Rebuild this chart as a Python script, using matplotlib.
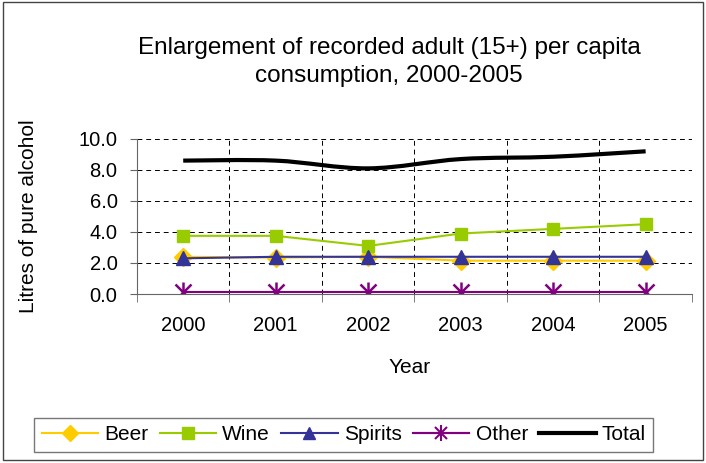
import numpy as np
import matplotlib.pyplot as plt
from matplotlib.path import Path
from matplotlib.patches import PathPatch, Rectangle
from matplotlib.lines import Line2D
from matplotlib.legend_handler import HandlerTuple

plt.rcParams['font.family'] = ['Liberation Sans', 'DejaVu Sans']

years = ['2000', '2001', '2002', '2003', '2004', '2005']
beer = [2.4, 2.35, 2.4, 2.15, 2.15, 2.15]
wine = [3.75, 3.75, 3.1, 3.9, 4.2, 4.5]
spirits = [2.3, 2.4, 2.4, 2.4, 2.4, 2.4]
other = [0.1, 0.1, 0.1, 0.1, 0.1, 0.1]
total = [8.6, 8.6, 8.1, 8.7, 8.85, 9.2]

fig = plt.figure(figsize=(7.06, 4.63), dpi=100)
ax = fig.add_axes([0.194, 0.365, 0.786, 0.335])
x = np.arange(len(years))

# rahmen um die ganze grafik
fig.patches.append(Rectangle((0.004, 0.006), 0.992, 0.99, transform=fig.transFigure,
                             fill=False, edgecolor='#444444', lw=1.0))

ax.plot(x, beer, color='#FFCC00', marker='D', markersize=9, lw=1.5, label='Beer')
ax.plot(x, wine, color='#99CC00', marker='s', markersize=9, lw=1.5, label='Wine')
ax.plot(x, spirits, color='#333399', marker='^', markersize=10, lw=1.5, label='Spirits')
ax.plot(x, other, color='#800080', lw=1.5)
ax.plot(x, other, color='#800080', marker='x', ls='none', markersize=11, mew=1.8)
ax.plot(x, other, color='#800080', marker='|', ls='none', markersize=15, mew=1.8)

# geglaettete linie (Excel-artig) fuer Total
verts = [(x[0], total[0])]
codes = [Path.MOVETO]
for i in range(len(x) - 1):
    p0 = (x[max(i - 1, 0)], total[max(i - 1, 0)])
    p1 = (x[i], total[i])
    p2 = (x[i + 1], total[i + 1])
    p3 = (x[min(i + 2, len(x) - 1)], total[min(i + 2, len(x) - 1)])
    c1 = (p1[0] + (p2[0] - p0[0]) / 6, p1[1] + (p2[1] - p0[1]) / 6)
    c2 = (p2[0] - (p3[0] - p1[0]) / 6, p2[1] - (p3[1] - p1[1]) / 6)
    verts += [c1, c2, p2]
    codes += [Path.CURVE4] * 3
ax.add_patch(PathPatch(Path(verts, codes), fill=False, edgecolor='black', lw=3))

ax.set_xlim(-0.5, 5.5)
ax.set_ylim(0, 10)
ax.set_yticks(np.arange(0, 10.1, 2))
ax.set_yticklabels(['%.1f' % v for v in np.arange(0, 10.1, 2)])
ax.set_xticks(x)
ax.set_xticklabels(years)
ax.set_xticks(np.arange(-0.5, 5.6, 1), minor=True)
ax.tick_params(axis='x', which='major', length=0, pad=16, labelsize=14.5)
ax.tick_params(axis='x', which='minor', length=6, direction='out', color='#666666')
ax.tick_params(axis='y', length=5, direction='out', color='#666666', labelsize=14.5, pad=9)

ax.grid(True, axis='y', which='major', color='black', ls=(0, (5, 4)), lw=0.7)
ax.grid(True, axis='x', which='minor', color='black', ls=(0, (5, 4)), lw=0.7)
for s in ['top', 'right']:
    ax.spines[s].set_visible(False)
for s in ['left', 'bottom']:
    ax.spines[s].set_color('#666666')

ax.set_xlabel('Year', fontsize=15, va='center')
ax.xaxis.set_label_coords(0.492, -0.477)
ax.set_ylabel('Litres of pure alcohol', fontsize=15, va='center')
ax.yaxis.set_label_coords(-0.196, 0.5)
fig.text(0.551, 0.866, 'Enlargement of recorded adult (15+) per capita\nconsumption, 2000-2005',
         ha='center', va='center', fontsize=17.5, linespacing=1.3)

beer_h = Line2D([], [], color='#FFCC00', marker='D', markersize=8, lw=1.5)
wine_h = Line2D([], [], color='#99CC00', marker='s', markersize=8, lw=1.5)
spir_h = Line2D([], [], color='#333399', marker='^', markersize=9, lw=1.5)
oth_h1 = Line2D([], [], color='#800080', marker='x', markersize=8, mew=1.5, lw=1.5)
oth_h2 = Line2D([], [], color='#800080', marker='|', markersize=11, mew=1.5, lw=1.5)
tot_h = Line2D([], [], color='black', lw=3)
leg = fig.legend([beer_h, wine_h, spir_h, (oth_h1, oth_h2), tot_h],
                 ['Beer', 'Wine', 'Spirits', 'Other', 'Total'],
                 handler_map={tuple: HandlerTuple(ndivide=1)},
                 loc='center', bbox_to_anchor=(0.487, 0.0605), ncol=5,
                 fontsize=15, frameon=True, fancybox=False, handlelength=2.7,
                 columnspacing=0.55, handletextpad=0.3, borderpad=0.35, borderaxespad=0)
leg.get_frame().set_edgecolor('#555555')
leg.get_frame().set_linewidth(1.0)

fig.savefig('out.png', dpi=100)
